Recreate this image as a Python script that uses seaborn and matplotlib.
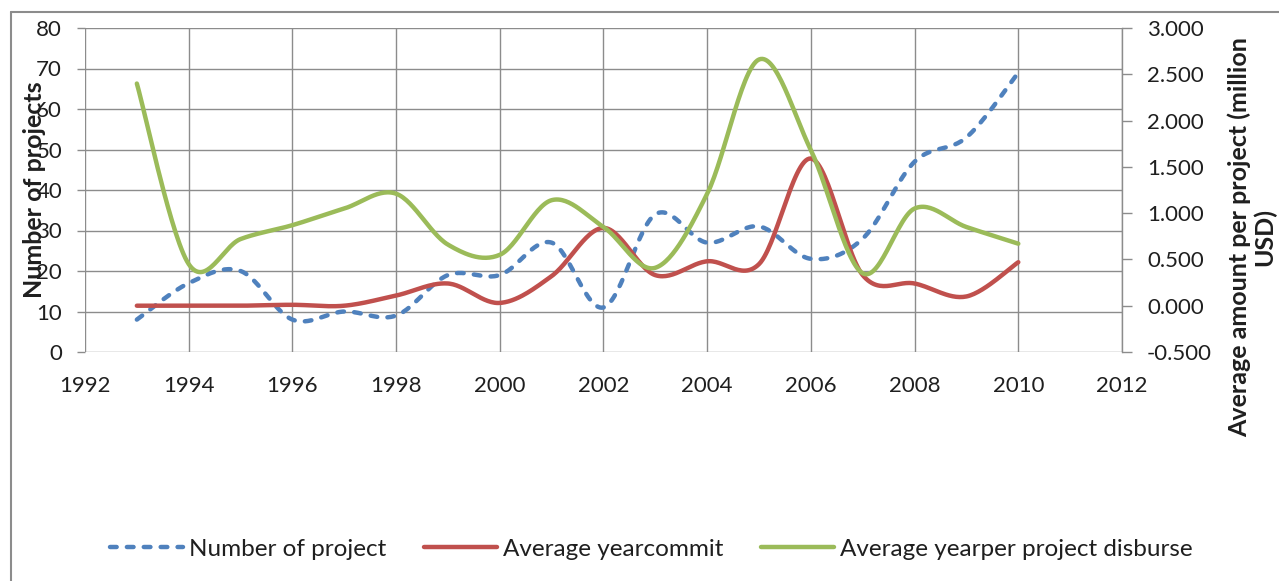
import numpy as np
import pandas as pd
import matplotlib
matplotlib.use('Agg')
import matplotlib.pyplot as plt
from matplotlib.lines import Line2D
import seaborn as sns

# values
years = list(range(1993, 2011))
num_projects = [8, 17, 20, 8, 10, 9, 19, 19, 27, 11, 34, 27, 31, 23, 28, 47, 53, 69]
avg_commit = [0.00, 0.00, 0.00, 0.01, 0.00, 0.11, 0.24, 0.03, 0.32, 0.84, 0.33, 0.48,
              0.45, 1.59, 0.33, 0.24, 0.10, 0.47]
avg_disburse = [2.40, 0.45, 0.72, 0.87, 1.05, 1.21, 0.66, 0.55, 1.14, 0.85, 0.41, 1.21,
                2.66, 1.68, 0.35, 1.05, 0.85, 0.67]

labels = ['Number of project', 'Average yearcommit', 'Average yearper project disburse']
left_ticks = list(range(0, 81, 10))
right_ticks = [-0.5, 0.0, 0.5, 1.0, 1.5, 2.0, 2.5, 3.0]
x_ticks = list(range(1992, 2013, 2))

COLOR_PROJECTS = '#4F81BD'
COLOR_COMMIT = '#C0504D'
COLOR_DISBURSE = '#9BBB59'
COLOR_GRID = '#8C8C8C'
COLOR_TEXT = '#1f1f1f'
FONT = 'Lato'
W, H = 1279, 581


def excel_smooth(x, y, steps=30):
    # Excel-style smoothed line: one cubic Bezier per segment,
    # control points taken from the neighbouring points (ends repeated)
    pts = np.column_stack([np.asarray(x, float), np.asarray(y, float)])
    ext = np.vstack([pts[:1], pts, pts[-1:]])
    out = []
    for i in range(len(pts) - 1):
        p0, p3 = ext[i + 1], ext[i + 2]
        c1 = p0 + (ext[i + 2] - ext[i]) / 6
        c2 = p3 - (ext[i + 3] - ext[i + 1]) / 6
        last = i == len(pts) - 2
        t = np.linspace(0, 1, steps, endpoint=last)[:, None]
        seg = ((1 - t) ** 3) * p0 + 3 * ((1 - t) ** 2) * t * c1 + 3 * (1 - t) * t ** 2 * c2 + t ** 3 * p3
        out.append(seg)
    out = np.vstack(out)
    return pd.DataFrame({'x': out[:, 0], 'y': out[:, 1]})


sns.set_style('white')
plt.rcParams['font.family'] = [FONT, 'DejaVu Sans']

fig = plt.figure(figsize=(W / 100, H / 100), dpi=100)
ax = fig.add_axes([85 / W, 1 - 352 / H, (1122 - 85) / W, (352 - 28) / H])
ax2 = ax.twinx()

sns.lineplot(data=excel_smooth(years, num_projects), x='x', y='y', ax=ax, sort=False,
             estimator=None, color=COLOR_PROJECTS, linewidth=3.2, label=labels[0],
             linestyle=(0, (1.5, 2.3)), dash_capstyle='round')
sns.lineplot(data=excel_smooth(years, avg_commit), x='x', y='y', ax=ax2, sort=False,
             estimator=None, color=COLOR_COMMIT, linewidth=3.2, label=labels[1],
             solid_capstyle='round')
sns.lineplot(data=excel_smooth(years, avg_disburse), x='x', y='y', ax=ax2, sort=False,
             estimator=None, color=COLOR_DISBURSE, linewidth=3.2, label=labels[2],
             solid_capstyle='round')

ax.set_xlim(1992, 2012)
ax.set_ylim(0, 80)
ax2.set_ylim(-0.5, 3.0)
ax.set_xticks(x_ticks)
ax.set_yticks(left_ticks)
ax2.set_yticks(right_ticks)
ax2.set_yticklabels(['%.3f' % v for v in right_ticks])
ax.set_xlabel('')
ax.set_ylabel('')
ax2.set_ylabel('')

ax.grid(True, color=COLOR_GRID, linewidth=1)
ax2.grid(False)
ax.set_axisbelow(True)
for a in (ax, ax2):
    for s in a.spines.values():
        s.set_visible(False)
ax2.spines['right'].set_visible(True)
ax2.spines['right'].set_color(COLOR_GRID)
ax2.spines['right'].set_linewidth(1)

ax.tick_params(axis='both', which='both', direction='out', length=6, width=1,
               color=COLOR_GRID, labelsize=16, labelcolor=COLOR_TEXT)
ax.tick_params(axis='y', pad=10.5)
ax.tick_params(axis='x', pad=11)
ax2.tick_params(axis='y', direction='out', length=7, width=1, color=COLOR_GRID,
                labelsize=16, labelcolor=COLOR_TEXT, pad=11)

fig.text(35 / W, 1 - 190 / H, 'Number of projects', rotation=90, ha='center', va='center',
         fontsize=18, fontweight='bold', color=COLOR_TEXT)
fig.text(1252 / W, 1 - 237 / H, 'Average amount per project (million\nUSD)', rotation=90,
         ha='center', va='center', multialignment='center', fontsize=18, fontweight='bold',
         color=COLOR_TEXT, linespacing=1.1)

handles, labs = [], []
for a in (ax, ax2):
    h, l = a.get_legend_handles_labels()
    handles += h
    labs += l
    if a.get_legend() is not None:
        a.get_legend().remove()
fig.legend(handles, labs, loc='center', bbox_to_anchor=(651 / W, 1 - 549 / H), ncol=3,
           frameon=False, fontsize=17.5, handlelength=3.0, handletextpad=0.25,
           columnspacing=1.55, labelcolor=COLOR_TEXT)

# chart-area border (left and top edges visible)
fig.add_artist(Line2D([11 / W, 11 / W], [0, 1 - 12 / H], transform=fig.transFigure,
                      color=COLOR_GRID, linewidth=1.5))
fig.add_artist(Line2D([11 / W, 1], [1 - 12 / H, 1 - 12 / H], transform=fig.transFigure,
                      color=COLOR_GRID, linewidth=1.5))

fig.savefig('out.png', dpi=100)
